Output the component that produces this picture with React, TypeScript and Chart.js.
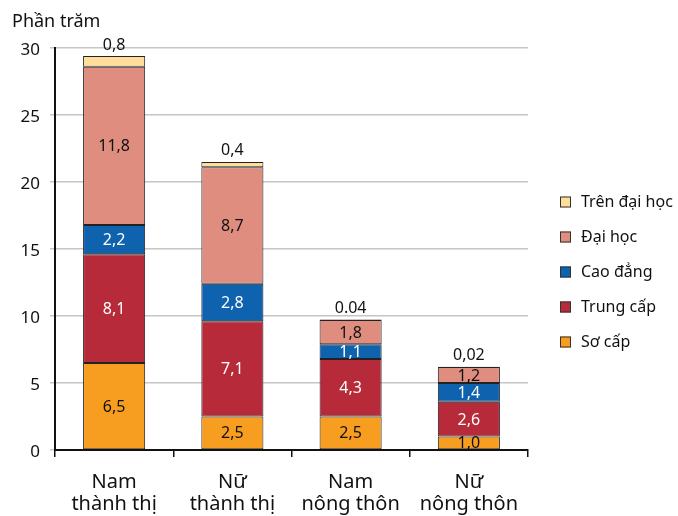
import React, { useEffect, useRef } from "react";
import { Chart, registerables } from "chart.js";

Chart.register(...registerables);

// Category labels (two lines each)
const categories: string[][] = [
  ["Nam", "thành thị"],
  ["Nữ", "thành thị"],
  ["Nam", "nông thôn"],
  ["Nữ", "nông thôn"],
];

// Share (%) by level of training
const soCap = [6.5, 2.5, 2.5, 1.0];
const trungCap = [8.1, 7.1, 4.3, 2.6];
const caoDang = [2.2, 2.8, 1.1, 1.4];
const daiHoc = [11.8, 8.7, 1.8, 1.2];
const trenDaiHoc = [0.8, 0.4, 0.04, 0.02];
const trenDaiHocLabels = ["0,8", "0,4", "0.04", "0,02"];

const seriesNames = ["Sơ cấp", "Trung cấp", "Cao đẳng", "Đại học", "Trên đại học"];
const seriesColors = ["#F79E20", "#B62A39", "#0F62AE", "#DE8D7F", "#FEDE9A"];
const seriesLabelColors = ["#111", "#fff", "#fff", "#111", "#111"];

const yMax = 30;
const yStep = 5;
const yTitle = "Phần trăm";

const FONT = "'Noto Sans', sans-serif";

const fmt = (v: number) => v.toFixed(1).replace(".", ",");

const overlayPlugin = {
  id: "overlay",
  afterDatasetsDraw(chart: any) {
    const ctx = chart.ctx;
    ctx.save();
    ctx.textAlign = "center";
    ctx.textBaseline = "middle";
    ctx.font = `16px ${FONT}`;
    chart.data.datasets.forEach((ds: any, i: number) => {
      const meta = chart.getDatasetMeta(i);
      meta.data.forEach((bar: any, j: number) => {
        const v = ds.data[j];
        if (i === chart.data.datasets.length - 1) {
          ctx.fillStyle = "#111";
          ctx.fillText(trenDaiHocLabels[j], bar.x, bar.y - 11);
        } else {
          ctx.fillStyle = seriesLabelColors[i];
          ctx.fillText(fmt(v), bar.x, (bar.y + bar.base) / 2 + 1);
        }
      });
    });
    ctx.restore();
  },
  afterDraw(chart: any) {
    const ctx = chart.ctx;
    ctx.save();
    // axis title
    ctx.fillStyle = "#111";
    ctx.font = `18px ${FONT}`;
    ctx.textAlign = "left";
    ctx.textBaseline = "alphabetic";
    ctx.fillText(yTitle, 12, 27);

    // legend, top entry first
    ctx.font = `16px ${FONT}`;
    ctx.textBaseline = "middle";
    const n = seriesNames.length;
    for (let k = 0; k < n; k++) {
      const idx = n - 1 - k;
      const cy = 202 + k * 35;
      ctx.fillStyle = seriesColors[idx];
      ctx.fillRect(560, cy - 5.5, 11, 11);
      ctx.strokeStyle = "#333";
      ctx.lineWidth = 1;
      ctx.strokeRect(560.5, cy - 5, 10, 10);
      ctx.fillStyle = "#111";
      ctx.fillText(seriesNames[idx], 581, cy);
    }
    ctx.restore();
  },
};

export default function App() {
  const canvasRef = useRef<HTMLCanvasElement | null>(null);

  useEffect(() => {
    const canvas = canvasRef.current;
    if (!canvas) return;
    const values = [soCap, trungCap, caoDang, daiHoc, trenDaiHoc];
    const chart = new Chart(canvas, {
      type: "bar",
      data: {
        labels: categories,
        datasets: values.map((data, i) => ({
          label: seriesNames[i],
          data,
          backgroundColor: seriesColors[i],
          borderColor: "#222",
          borderWidth: 1,
          borderSkipped: false,
          barPercentage: 0.525,
          categoryPercentage: 1,
        })),
      },
      options: {
        responsive: false,
        animation: false,
        devicePixelRatio: 1,
        layout: { padding: { top: 48, right: 150, bottom: 0, left: 0 } },
        plugins: {
          legend: { display: false },
          tooltip: { enabled: false },
          title: { display: false },
        },
        scales: {
          x: {
            stacked: true,
            offset: true,
            afterFit(scale: any) {
              scale.height = 66;
            },
            grid: {
              offset: true,
              drawOnChartArea: false,
              drawTicks: true,
              tickLength: 7,
              color: "#111",
              lineWidth: 1.5,
            },
            border: { display: true, color: "#111", width: 2 },
            ticks: {
              color: "#111",
              padding: 14,
              maxRotation: 0,
              autoSkip: false,
              font: { family: FONT, size: 20, lineHeight: 1.1 },
            },
          },
          y: {
            stacked: true,
            min: 0,
            max: yMax,
            afterFit(scale: any) {
              scale.width = 55;
            },
            grid: {
              color: "#c6c6c6",
              lineWidth: 1.5,
              tickLength: 5,
            },
            border: { display: true, color: "#111", width: 2 },
            ticks: {
              stepSize: yStep,
              color: "#111",
              padding: 10,
              labelOffset: 2,
              font: { family: FONT, size: 17 },
            },
          },
        },
      },
      plugins: [overlayPlugin],
    });
    return () => chart.destroy();
  }, []);

  return (
    <div style={{ position: "absolute", left: 0, top: 0, width: 678, height: 516, background: "#fff" }}>
      <canvas ref={canvasRef} width={678} height={516} style={{ width: 678, height: 516 }} />
    </div>
  );
}
